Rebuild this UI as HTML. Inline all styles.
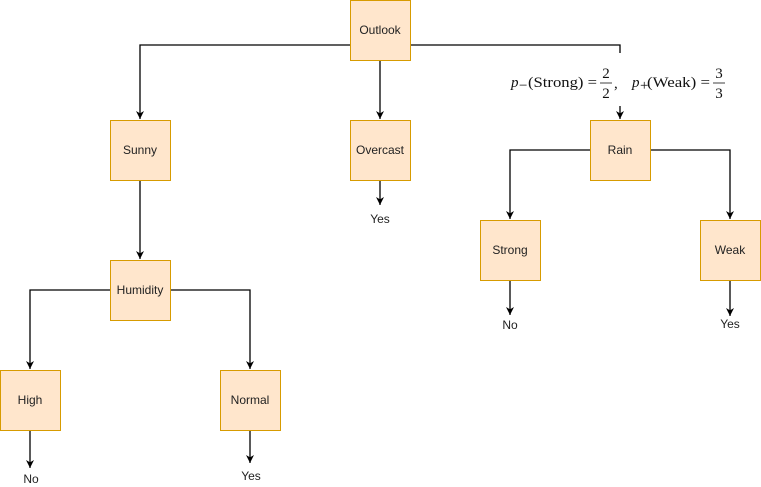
<!DOCTYPE html>
<html><head><meta charset="utf-8"><style>
html,body{margin:0;padding:0;background:#fff;}
svg{display:block;}
text{font-family:"Liberation Sans",Arial,sans-serif;font-size:12px;fill:#222;}
.m{font-family:"Liberation Serif",serif;font-size:15px;fill:#111;}
</style></head><body>
<svg width="761" height="487" viewBox="0 0 761 487">
<defs>
<marker id="b" viewBox="0 0 10 10" refX="10" refY="5" markerWidth="8" markerHeight="8" orient="auto" markerUnits="userSpaceOnUse"><path d="M0,0 L10,5 L0,10 L3,5 Z" fill="#000"/></marker></defs>
<g fill="none" stroke="#000" stroke-width="1.3">
<path d="M350,45 H140 V119" marker-end="url(#b)"/>
<path d="M410,45 H620 V53"/>
<path d="M620,106 V119" marker-end="url(#b)"/>
<path d="M380,60 V119" marker-end="url(#b)"/>
<path d="M380,180 V205" marker-end="url(#b)"/>
<path d="M140,180 V259" marker-end="url(#b)"/>
<path d="M110,290 H30 V369" marker-end="url(#b)"/>
<path d="M170,290 H250 V369" marker-end="url(#b)"/>
<path d="M30,430 V468" marker-end="url(#b)"/>
<path d="M250,430 V463" marker-end="url(#b)"/>
<path d="M590,150 H510 V219" marker-end="url(#b)"/>
<path d="M650,150 H730 V219" marker-end="url(#b)"/>
<path d="M510,280 V315" marker-end="url(#b)"/>
<path d="M730,280 V316" marker-end="url(#b)"/>
</g>
<g fill="#ffe6cc" stroke="#d79b00" stroke-width="1">
<rect x="350.5" y="0.5" width="60" height="60"/>
<rect x="110.5" y="120.5" width="60" height="60"/>
<rect x="350.5" y="120.5" width="60" height="60"/>
<rect x="590.5" y="120.5" width="60" height="60"/>
<rect x="110.5" y="260.5" width="60" height="60"/>
<rect x="0.5" y="370.5" width="60" height="60"/>
<rect x="220.5" y="370.5" width="60" height="60"/>
<rect x="480.5" y="220.5" width="60" height="60"/>
<rect x="700.5" y="220.5" width="60" height="60"/>
</g>
<g text-anchor="middle">
<text x="380" y="34">Outlook</text>
<text x="140" y="154">Sunny</text>
<text x="380" y="154">Overcast</text>
<text x="620" y="154">Rain</text>
<text x="140" y="294">Humidity</text>
<text x="30" y="404">High</text>
<text x="250" y="404">Normal</text>
<text x="510" y="254">Strong</text>
<text x="730" y="254">Weak</text>
<text x="380" y="223">Yes</text>
<text x="510" y="329">No</text>
<text x="730" y="328">Yes</text>
<text x="31" y="483">No</text>
<text x="251" y="480">Yes</text>
</g>
<text x="511" y="87" class="m" font-style="italic">p</text>
<text x="519" y="90" class="m" font-size="10">−</text>
<text x="528" y="87" class="m" textLength="69" lengthAdjust="spacingAndGlyphs">(Strong) =</text>
<text x="606" y="78" class="m" text-anchor="middle">2</text>
<line x1="600" y1="83" x2="612" y2="83" stroke="#111" stroke-width="0.8"/>
<text x="606" y="98" class="m" text-anchor="middle">2</text>
<text x="614" y="88" class="m">,</text>
<text x="632" y="87" class="m" font-style="italic">p</text>
<text x="640" y="90" class="m" font-size="10">+</text>
<text x="647" y="87" class="m" textLength="63" lengthAdjust="spacingAndGlyphs">(Weak) =</text>
<text x="719" y="78" class="m" text-anchor="middle">3</text>
<line x1="713" y1="83" x2="725" y2="83" stroke="#111" stroke-width="0.8"/>
<text x="719" y="98" class="m" text-anchor="middle">3</text>
</svg>
</body></html>
